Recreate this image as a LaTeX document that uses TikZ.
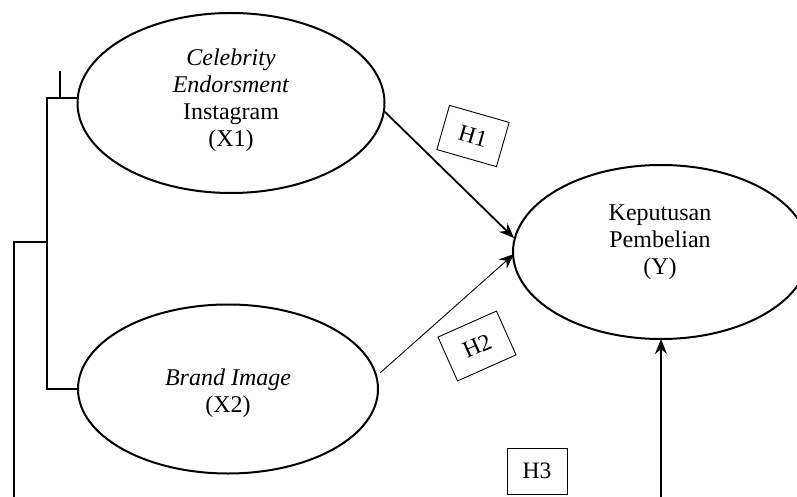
\documentclass[tikz,border=0pt]{standalone}
\usepackage{fontspec}
\setmainfont{Liberation Serif}
\usetikzlibrary{shapes.geometric,arrows.meta}
\begin{document}
\begin{tikzpicture}[x=1pt,y=-1pt,
  latent/.style={ellipse,draw,line width=2pt,inner sep=0pt},
  lbl/.style={align=center,font=\fontsize{24}{27}\selectfont},
  hbox/.style={draw,line width=0.9pt,minimum width=62pt,minimum height=46pt,inner sep=0pt,font=\fontsize{23.5}{27}\selectfont},
  tip/.style={-{Stealth[length=15pt,width=12pt]}},
  frame/.style={line width=1.2pt}]
\useasboundingbox (0,0) rectangle (797,497);
% ellipses
\node[latent,minimum width=307pt,minimum height=180pt] (x1) at (231,103) {};
\node[latent,minimum width=300pt,minimum height=169pt] (x2) at (228,389) {};
\node[latent,minimum width=296pt,minimum height=174pt] (y) at (661,252) {};
% texts
\node[lbl] (x1t) at (231,100) {\textit{Celebrity}\\\textit{Endorsment}\\Instagram\\(X1)};
\node[lbl] (x2t) at (228,393) {\textit{Brand Image}\\(X2)};
\node[lbl] (yt) at (660,242) {Keputusan\\Pembelian\\(Y)};
% hypothesis boxes
\node[hbox,rotate=-16] (h1) at (473,136) {H1};
\node[hbox,rotate=24,minimum width=64pt,minimum height=48pt] (h2) at (477,346) {H2};
\node[hbox,minimum width=60pt] (h3) at (537,471) {H3};
% connectors
\coordinate (a1) at (385,112);
\coordinate (b1) at (514,238);
\coordinate (a2) at (380,373);
\coordinate (b2) at (514,254);
\coordinate (a3) at (661,497);
\coordinate (b3) at (661,339);
\draw[tip,line width=1.8pt] (a1) -- (b1);
\draw[tip,line width=0.9pt] (a2) -- (b2);
\draw[tip,line width=1.4pt] (a3) -- (b3);
% left frame lines
\coordinate (t1) at (60,71);
\coordinate (t2) at (60,98);
\coordinate (c1) at (47,98);
\coordinate (c2) at (79,98);
\coordinate (c3) at (47,389);
\coordinate (c4) at (79,389);
\coordinate (d1) at (14,242);
\coordinate (d2) at (48,242);
\coordinate (d3) at (14,497);
\draw[frame] (t1) -- (t2);
\draw[frame] (c2) -- (c1) -- (c3) -- (c4);
\draw[frame] (d2) -- (d1) -- (d3);
\end{tikzpicture}
\end{document}
